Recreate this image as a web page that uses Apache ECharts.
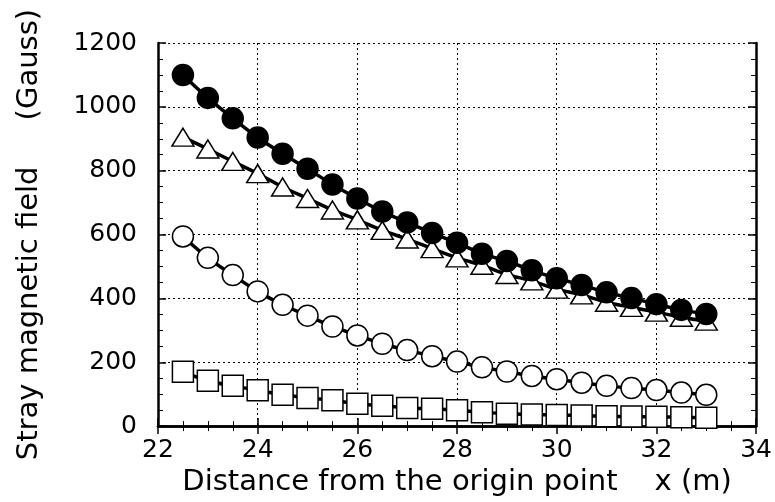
<!DOCTYPE html>
<html>
<head>
<meta charset="utf-8">
<script src="https://cdn.jsdelivr.net/npm/echarts@6/dist/echarts.min.js"></script>
<style>
  html, body { margin: 0; padding: 0; background: #fff; }
  #chart { width: 775px; height: 502px; }
</style>
</head>
<body>
<div id="chart"></div>
<script>
// distance x (m), every 0.5 m
var xs = [22.5, 23, 23.5, 24, 24.5, 25, 25.5, 26, 26.5, 27, 27.5,
          28, 28.5, 29, 29.5, 30, 30.5, 31, 31.5, 32, 32.5, 33];

// stray field (Gauss) for the four curves
var filledCircle = [1100, 1028, 964, 904, 853, 806, 757, 713, 672, 638, 605,
                    574, 540, 517, 488, 463, 442, 419, 401, 382, 364, 351];
var openTriangle = [905, 868, 829, 791, 749, 713, 677, 646, 613, 586, 556,
                    527, 504, 475, 455, 429, 411, 388, 372, 357, 341, 329];
var openCircle = [594, 527, 473, 422, 380, 346, 312, 284, 258, 238, 219,
                  202, 184, 171, 157, 147, 136, 126, 119, 113, 105, 98];
var openSquare = [170, 142, 126, 112, 98, 88, 81, 70, 64, 57, 54,
                  50, 43, 39, 36, 35, 33, 31, 30, 29, 28, 26];

var xTicks = [22, 24, 26, 28, 30, 32, 34];
var yTicks = [0, 200, 400, 600, 800, 1000, 1200];

function pairs(vals) {
    var out = [];
    for (var i = 0; i < xs.length; i++) {
        out.push([xs[i], vals[i]]);
    }
    return out;
}

var font = 'DejaVu Sans';
var dotted = {color: '#000', width: 1, type: [2, 3]};

function mkSeries(vals, symbol, fill, size) {
    return {
        type: 'line',
        data: pairs(vals),
        smooth: 0.3,
        symbol: symbol,
        symbolSize: size,
        showAllSymbol: true,
        lineStyle: {color: '#000', width: 3.5},
        itemStyle: {color: fill, borderColor: '#000', borderWidth: 1.5},
        emphasis: {disabled: true}
    };
}

var myChart = echarts.init(document.getElementById('chart'));

var option = {
    backgroundColor: '#fff',
    animation: false,
    grid: {left: 158, right: 15, top: 43, bottom: 72},
    xAxis: [{
        type: 'value',
        min: xTicks[0],
        max: xTicks[xTicks.length - 1],
        interval: 2,
        name: 'Distance from the origin point    x (m)',
        nameLocation: 'middle',
        nameGap: 34,
        nameTextStyle: {fontFamily: font, fontSize: 29, color: '#000'},
        axisLine: {lineStyle: {color: '#000', width: 2.5}},
        axisTick: {inside: true, length: 8, lineStyle: {color: '#000', width: 1.5}},
        minorTick: {show: true, splitNumber: 4, length: 5, lineStyle: {color: '#000', width: 1}},
        axisLabel: {fontFamily: font, fontSize: 25, color: '#000', margin: 12},
        splitLine: {show: true, lineStyle: dotted}
    }, {
        type: 'value',
        position: 'top',
        min: xTicks[0],
        max: xTicks[xTicks.length - 1],
        interval: 2,
        axisLine: {show: true, lineStyle: {color: '#000', width: 2.5}},
        axisTick: {inside: true, length: 8, lineStyle: {color: '#000', width: 1.5}},
        minorTick: {show: true, splitNumber: 4, length: 5, lineStyle: {color: '#000', width: 1}},
        axisLabel: {show: false},
        splitLine: {show: false}
    }],
    yAxis: [{
        type: 'value',
        min: yTicks[0],
        max: yTicks[yTicks.length - 1],
        interval: 200,
        name: 'Stray magnetic field     (Gauss)',
        nameLocation: 'middle',
        nameGap: 114,
        nameTextStyle: {fontFamily: font, fontSize: 29, color: '#000'},
        axisLine: {show: true, lineStyle: {color: '#000', width: 2.5}},
        axisTick: {show: true, inside: true, length: 8, lineStyle: {color: '#000', width: 1.5}},
        minorTick: {show: true, splitNumber: 4, length: 5, lineStyle: {color: '#000', width: 1}},
        axisLabel: {
            fontFamily: font, fontSize: 25, color: '#000', margin: 21,
            formatter: function (v) { return String(v); }
        },
        splitLine: {show: true, lineStyle: dotted}
    }, {
        type: 'value',
        position: 'right',
        min: yTicks[0],
        max: yTicks[yTicks.length - 1],
        interval: 200,
        axisLine: {show: true, lineStyle: {color: '#000', width: 2.5}},
        axisTick: {show: true, inside: true, length: 8, lineStyle: {color: '#000', width: 1.5}},
        minorTick: {show: true, splitNumber: 4, length: 5, lineStyle: {color: '#000', width: 1}},
        axisLabel: {show: false},
        splitLine: {show: false}
    }],
    series: [
        mkSeries(openSquare, 'rect', '#fff', 21),
        mkSeries(openCircle, 'circle', '#fff', 21),
        mkSeries(openTriangle, 'triangle', '#fff', [22, 18]),
        mkSeries(filledCircle, 'circle', '#000', 21)
    ]
};

myChart.setOption(option);
</script>
</body>
</html>
